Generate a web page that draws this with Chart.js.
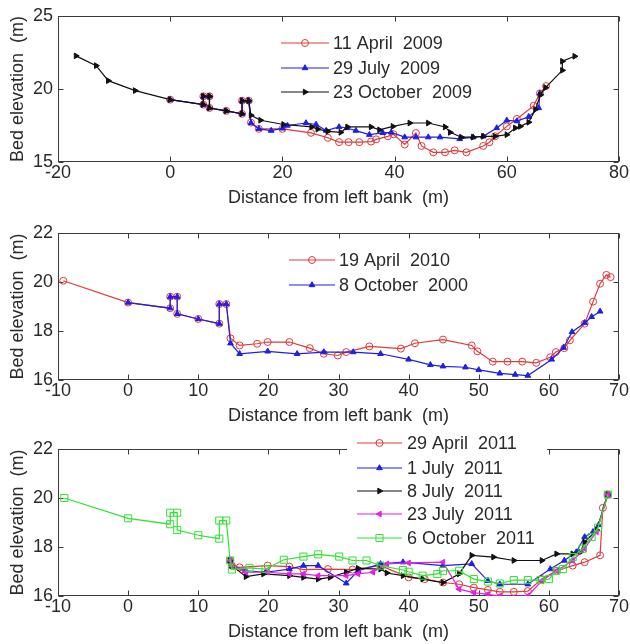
<!DOCTYPE html>
<html>
<head>
<meta charset="utf-8">
<script src="https://cdn.jsdelivr.net/npm/chart.js@4/dist/chart.umd.min.js"></script>
<style>
  html, body { margin: 0; padding: 0; background: #ffffff; }
  #wrap { position: relative; width: 630px; height: 644px; overflow: hidden; }
  canvas { position: absolute; left: 0; }
</style>
</head>
<body>
<div id="wrap">
  <canvas id="c1" width="630" height="212" style="top:0px"></canvas>
  <canvas id="c2" width="630" height="215" style="top:212px"></canvas>
  <canvas id="c3" width="630" height="217" style="top:427px"></canvas>
</div>
<script>
// ---------- DATA (distance m, bed elevation m) ----------
// Panel 1
const april2009 = [[0,19.27],[5.9,18.93],[5.9,19.5],[7,19.5],[7,18.7],[10,18.5],[12.8,18.3],[12.8,19.2],[14,19.2],[14.4,17.7],[15.8,17.27],[20,17.27],[25.1,17.0],[28.1,16.66],[30.1,16.36],[31.8,16.36],[33.7,16.36],[35.8,16.4],[36.7,16.55],[38.8,16.76],[39.8,16.9],[41.8,16.2],[43.8,16.98],[44.8,16.1],[46.9,15.66],[49,15.66],[50.7,15.8],[52.8,15.66],[55.8,16.1],[56.9,16.35],[57.9,16.76],[60,17.44],[61.8,17.95],[64.8,18.86],[65.9,19.7],[67,20.2]];
const july2009 = [[0,19.27],[5.9,18.93],[5.9,19.5],[7,19.5],[7,18.7],[10,18.5],[12.8,18.3],[12.8,19.2],[14,19.2],[14.4,17.68],[15.8,17.27],[18,17.15],[20,17.3],[20.9,17.5],[24.2,17.67],[26,17.57],[27.8,17.15],[30.1,17.4],[31.5,17.33],[33.1,17.15],[35.5,16.87],[37.9,17.0],[39.4,17.03],[41.8,16.7],[43.8,16.7],[46,16.7],[48.1,16.7],[51.6,16.58],[54,16.7],[55.8,16.76],[58.2,17.33],[60,17.85],[61.8,17.8],[63.9,18.1],[65.7,18.7],[65.9,19.7]];
const october2009 = [[-16.8,22.27],[-13.2,21.6],[-11.05,20.57],[-6.25,19.89],[0,19.27],[5.9,18.93],[5.9,19.5],[7,19.5],[7,18.7],[10,18.5],[12.8,18.3],[12.8,19.2],[14,19.2],[14.4,18.2],[16.1,17.86],[20.2,17.57],[25.2,17.4],[26.3,17.25],[28.1,17.1],[30.4,17.03],[31.6,17.4],[35.8,17.4],[37.3,17.2],[39.7,17.44],[42.7,17.67],[46,17.67],[49,17.4],[49.9,17.03],[51.9,16.7],[54,16.7],[55.8,16.76],[57.9,16.76],[60,16.87],[61.5,17.33],[62.4,17.44],[63.9,17.72],[65.1,18.6],[66,19.6],[66.9,20.1],[69.9,21.28],[69.9,21.9],[72.1,22.24]];

// Panel 2
const april2010 = [[-9.25,20.05],[0,19.16],[6,18.93],[6,19.4],[7,19.4],[7,18.7],[10,18.49],[13,18.3],[13,19.1],[14,19.1],[14.6,17.7],[15.9,17.41],[18.4,17.48],[19.9,17.55],[23,17.55],[25.9,17.3],[27.9,17.07],[29.9,17.0],[31.1,17.14],[34.4,17.37],[38.9,17.28],[40.9,17.5],[44.9,17.65],[49,17.41],[49.8,17.17],[52,16.75],[54.1,16.75],[56.2,16.75],[58.2,16.7],[60.2,16.93],[61,17.14],[62.2,17.3],[63,17.62],[65.1,18.3],[66.3,19.2],[67.3,19.93],[68.2,20.29],[68.8,20.2]];
const october2000 = [[0,19.16],[6,18.93],[6,19.4],[7,19.4],[7,18.7],[10,18.49],[13,18.3],[13,19.1],[14,19.1],[14.6,17.5],[15.9,17.07],[19.9,17.17],[24.1,17.07],[27.9,17.14],[32.1,17.14],[36,17.07],[40,16.84],[43.1,16.62],[44.9,16.56],[48.1,16.52],[50,16.41],[53,16.27],[55.2,16.22],[57,16.18],[60.4,16.84],[62.1,17.32],[63.3,17.96],[65.1,18.33],[66.1,18.58],[67.3,18.8]];

// Panel 3
const april2011 = [[14.55,17.45],[14.8,17.24],[15.9,17.17],[19.9,17.24],[23,17.2],[25,17.08],[28.5,17.1],[32,17.08],[36,17.24],[40,16.76],[42.3,16.69],[44.9,16.55],[47.2,16.48],[49.3,16.34],[51.3,16.25],[53,16.17],[55,16.17],[57,16.2],[59,16.69],[61.1,17.03],[63.4,17.24],[65.1,17.38],[67.3,17.66],[67.7,19.6],[68.4,20.14]];
const july1_2011 = [[14.55,17.45],[14.8,17.24],[16.7,17.03],[19.6,16.97],[23,17.1],[25,17.24],[27.1,17.24],[31.1,16.52],[32.8,17.03],[36,17.31],[39.2,17.38],[44.9,17.24],[49,17.31],[51.3,16.62],[53,16.48],[57,16.48],[60.2,17.1],[62.2,17.45],[63.9,17.79],[65.1,18.41],[66.3,18.62],[67.1,18.9],[68.4,20.14]];
const july8_2011 = [[14.55,17.45],[14.8,17.24],[16.8,16.79],[19.3,16.9],[23,16.83],[25,16.76],[27.1,16.69],[28.8,16.76],[31.1,16.97],[32.8,17.13],[36,17.1],[36.9,16.94],[39.2,16.83],[42,16.69],[44.9,16.55],[47.2,16.9],[49,17.66],[52.1,17.59],[55,17.45],[59,17.45],[61.1,17.72],[63.4,17.72],[64.5,17.79],[65.1,18.2],[66.8,18.69],[68.4,20.14]];
const july23_2011 = [[14.55,17.45],[14.8,17.24],[16.8,16.97],[19.9,16.97],[23,16.9],[25,16.9],[27.1,16.83],[31.1,16.83],[32.8,16.9],[34.9,16.97],[36.9,17.31],[40,17.35],[44.9,17.38],[47.2,16.28],[49.3,16.14],[51.3,16.07],[53,16.0],[57,16.0],[59,16.62],[61.1,17.03],[63.4,17.45],[65.1,17.93],[66.8,18.62],[68.4,20.14]];
const october2011 = [[-9.1,20.0],[0,19.17],[6,18.93],[6,19.4],[7,19.4],[7,18.69],[10,18.48],[13,18.34],[13,19.08],[14,19.08],[14.55,17.45],[14.8,17.08],[17.3,17.15],[19.6,17.1],[22.2,17.48],[25,17.61],[27.1,17.7],[30.1,17.61],[32,17.45],[34,17.45],[36,17.24],[39.2,17.06],[40,16.99],[42,16.83],[44.1,16.9],[44.9,17.03],[47.2,17.03],[49.3,16.69],[51.3,16.59],[53,16.51],[55,16.65],[57,16.65],[58.8,16.65],[60,16.69],[61.1,17.03],[62,17.1],[63.4,17.59],[64.8,17.93],[66.1,18.41],[67,18.79],[68.4,20.14]];

const labels1 = ['11 April  2009', '29 July  2009', '23 October  2009'];
const labels2 = ['19 April  2010', '8 October  2000'];
const labels3 = ['29 April  2011', '1 July  2011', '8 July  2011', '23 July  2011', '6 October  2011'];

const xTicks1 = [-20, 0, 20, 40, 60, 80];
const yTicks1 = [15, 20, 25];
const xTicks23 = [-10, 0, 10, 20, 30, 40, 50, 60, 70];
const yTicks23 = [16, 18, 20, 22];

// ---------- STYLES ----------
const FONT = "'Liberation Sans', Arial, sans-serif";
const AXIS = '#3a3a3a';
const TEXT = '#2a2a2a';
const STY = {
  red:     { color: '#e03a3a', pointStyle: 'circle',   radius: 3.5, rotation: 0,   fill: 'rgba(0,0,0,0)' },
  blue:    { color: '#1f1fe6', pointStyle: 'triangle', radius: 3.3, rotation: 0,   fill: '#1f1fe6' },
  black:   { color: '#111111', pointStyle: 'triangle', radius: 3.3, rotation: 90,  fill: '#111111' },
  magenta: { color: '#e61ee6', pointStyle: 'triangle', radius: 3.3, rotation: -90, fill: '#e61ee6' },
  green:   { color: '#33e033', pointStyle: 'rect',     radius: 5,   rotation: 0,   fill: 'rgba(0,0,0,0)' }
};

function ds(label, pts, s, order) {
  return {
    label: label,
    data: pts.map(p => ({ x: p[0], y: p[1] })),
    showLine: true,
    borderColor: s.color,
    borderWidth: 1.2,
    backgroundColor: s.fill,
    pointStyle: s.pointStyle,
    pointRotation: s.rotation,
    pointRadius: s.radius,
    pointHoverRadius: s.radius,
    pointBorderColor: s.color,
    pointBackgroundColor: s.fill,
    pointBorderWidth: 1,
    tension: 0,
    order: order,
    _sty: s
  };
}

function drawMarker(ctx, s, x, y) {
  const r = s.radius;
  ctx.beginPath();
  if (s.pointStyle === 'circle') {
    ctx.arc(x, y, r, 0, Math.PI * 2);
  } else if (s.pointStyle === 'rect') {
    const h = r * Math.SQRT1_2;
    ctx.rect(x - h, y - h, 2 * h, 2 * h);
  } else {
    let rad = s.rotation * Math.PI / 180;
    for (let i = 0; i < 3; i++) {
      const px = x + Math.sin(rad) * r, py = y - Math.cos(rad) * r;
      if (i === 0) ctx.moveTo(px, py); else ctx.lineTo(px, py);
      rad += 2 * Math.PI / 3;
    }
    ctx.closePath();
  }
  ctx.fillStyle = s.fill;
  ctx.fill();
  ctx.strokeStyle = s.color;
  ctx.lineWidth = 1;
  ctx.stroke();
}

const framePlugin = {
  id: 'frame',
  beforeDatasetsDraw(chart) {
    const { ctx, chartArea: a, scales } = chart;
    ctx.save();
    ctx.strokeStyle = AXIS;
    ctx.lineWidth = 1;
    const L = Math.round(a.left) + 0.5, R = Math.round(a.right) - 0.5;
    const T = Math.round(a.top) + 0.5, B = Math.round(a.bottom) - 0.5;
    ctx.strokeRect(L, T, R - L, B - T);
    const tl = 5;
    ctx.beginPath();
    scales.x.ticks.forEach(t => {
      const px = Math.round(scales.x.getPixelForValue(t.value)) + 0.5;
      ctx.moveTo(px, B); ctx.lineTo(px, B - tl);
      ctx.moveTo(px, T); ctx.lineTo(px, T + tl);
    });
    scales.y.ticks.forEach(t => {
      const py = Math.round(scales.y.getPixelForValue(t.value)) + 0.5;
      ctx.moveTo(L, py); ctx.lineTo(L + tl, py);
      ctx.moveTo(R, py); ctx.lineTo(R - tl, py);
    });
    ctx.stroke();
    ctx.restore();
  },
  afterDatasetsDraw(chart) {
    const lg = chart.options.plugins.frame;
    if (!lg) return;
    const { ctx } = chart;
    ctx.save();
    if (lg.bg) {
      ctx.fillStyle = '#ffffff';
      ctx.fillRect(lg.bg[0], lg.bg[1], lg.bg[2] - lg.bg[0], lg.bg[3] - lg.bg[1]);
    }
    chart.data.datasets.forEach((d, i) => {
      const y = lg.rows[i];
      const s = d._sty;
      ctx.strokeStyle = s.color;
      ctx.lineWidth = 1.2;
      ctx.beginPath();
      ctx.moveTo(lg.x0, y); ctx.lineTo(lg.x1, y);
      ctx.stroke();
      drawMarker(ctx, s, (lg.x0 + lg.x1) / 2, y);
      ctx.fillStyle = TEXT;
      ctx.font = '18px ' + FONT;
      ctx.textAlign = 'left';
      ctx.textBaseline = 'middle';
      ctx.fillText(d.label, lg.tx, y + 1);
    });
    ctx.restore();
  }
};

function makeChart(id, datasets, p) {
  const ctx = document.getElementById(id).getContext('2d');
  return new Chart(ctx, {
    type: 'scatter',
    data: { datasets: datasets },
    plugins: [framePlugin],
    options: {
      responsive: false,
      animation: false,
      devicePixelRatio: 1,
      layout: { padding: { top: p.padTop, right: 11, left: 0, bottom: 0 } },
      plugins: {
        legend: { display: false },
        tooltip: { enabled: false },
        frame: p.legend
      },
      scales: {
        x: {
          type: 'linear',
          min: p.xTicks[0], max: p.xTicks[p.xTicks.length - 1],
          afterBuildTicks: sc => { sc.ticks = p.xTicks.map(v => ({ value: v })); },
          ticks: { font: { family: FONT, size: 18 }, color: TEXT, padding: 0, maxRotation: 0, autoSkip: false },
          grid: { display: false, drawTicks: false },
          border: { display: false },
          title: { display: true, text: 'Distance from left bank  (m)', color: TEXT,
                   font: { family: FONT, size: 18 }, padding: { top: 0, bottom: p.xTitlePad } },
          afterFit: sc => { sc.height = p.xAxisH; }
        },
        y: {
          type: 'linear',
          min: p.yTicks[0], max: p.yTicks[p.yTicks.length - 1],
          afterBuildTicks: sc => { sc.ticks = p.yTicks.map(v => ({ value: v })); },
          ticks: { font: { family: FONT, size: 18 }, color: TEXT, padding: 5, autoSkip: false },
          grid: { display: false, drawTicks: false },
          border: { display: false },
          title: { display: true, text: 'Bed elevation  (m)', color: TEXT,
                   font: { family: FONT, size: 18 }, padding: { top: 7, bottom: 0 } },
          afterFit: sc => { sc.width = 58; }
        }
      }
    }
  });
}

makeChart('c1', [
  ds(labels1[0], april2009, STY.red, 3),
  ds(labels1[1], july2009, STY.blue, 2),
  ds(labels1[2], october2009, STY.black, 1)
], { padTop: 16, xAxisH: 50, xTitlePad: 3, xTicks: xTicks1, yTicks: yTicks1,
     legend: { x0: 281, x1: 329, tx: 333, rows: [43, 68, 92] } });

makeChart('c2', [
  ds(labels2[0], april2010, STY.red, 2),
  ds(labels2[1], october2000, STY.blue, 1)
], { padTop: 21, xAxisH: 47, xTitlePad: 0, xTicks: xTicks23, yTicks: yTicks23,
     legend: { x0: 289, x1: 335, tx: 339, rows: [48, 73] } });

makeChart('c3', [
  ds(labels3[0], april2011, STY.red, 5),
  ds(labels3[1], july1_2011, STY.blue, 4),
  ds(labels3[2], july8_2011, STY.black, 3),
  ds(labels3[3], july23_2011, STY.magenta, 2),
  ds(labels3[4], october2011, STY.green, 1)
], { padTop: 22, xAxisH: 48, xTitlePad: 1, xTicks: xTicks23, yTicks: yTicks23,
     legend: { x0: 357, x1: 402, tx: 407, rows: [16, 41, 64, 87, 111], bg: [347, 4, 547, 122] } });
</script>
</body>
</html>
